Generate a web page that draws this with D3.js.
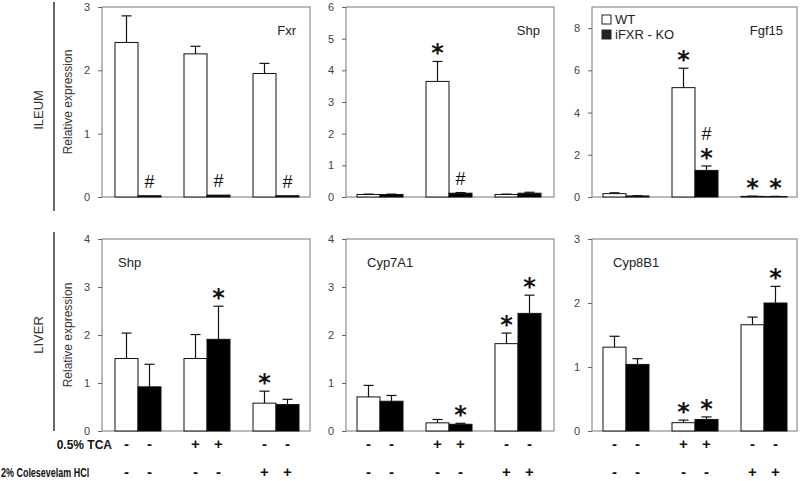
<!DOCTYPE html>
<html><head><meta charset="utf-8">
<script src="https://cdn.jsdelivr.net/npm/d3@7"></script>
<style>
body{margin:0;background:#fff;}
svg{display:block;font-family:"Liberation Sans",Arial,sans-serif;}
</style></head>
<body><svg id="c" width="800" height="481"></svg>
<script>
// ---------- data ----------
const groups = ["ctrl", "tca", "col"];
const series = ["WT", "iFXR - KO"];

const fxrWT = [2.44, 2.26, 1.95], fxrWTErr = [0.42, 0.12, 0.16];
const fxrKO = [0.02, 0.03, 0.02], fxrKOErr = [0, 0, 0];
const fxrWTSig = ["", "", ""], fxrKOSig = ["#", "#", "#"];

const shpIWT = [0.08, 3.65, 0.08], shpIWTErr = [0.01, 0.63, 0.01];
const shpIKO = [0.08, 0.12, 0.12], shpIKOErr = [0.01, 0.02, 0.03];
const shpIWTSig = ["", "*", ""], shpIKOSig = ["", "#", ""];

const fgfWT = [0.16, 5.18, 0.03], fgfWTErr = [0.04, 0.92, 0.01];
const fgfKO = [0.05, 1.26, 0.02], fgfKOErr = [0.01, 0.21, 0.01];
const fgfWTSig = ["", "*", "*"], fgfKOSig = ["", "*#", "*"];

const shpLWT = [1.51, 1.51, 0.58], shpLWTErr = [0.53, 0.50, 0.25];
const shpLKO = [0.92, 1.91, 0.55], shpLKOErr = [0.47, 0.69, 0.11];
const shpLWTSig = ["", "", "*"], shpLKOSig = ["", "*", ""];

const cyp7WT = [0.71, 0.17, 1.82], cyp7WTErr = [0.24, 0.07, 0.22];
const cyp7KO = [0.62, 0.14, 2.45], cyp7KOErr = [0.12, 0.02, 0.38];
const cyp7WTSig = ["", "", "*"], cyp7KOSig = ["", "*", "*"];

const cyp8WT = [1.31, 0.13, 1.66], cyp8WTErr = [0.17, 0.04, 0.12];
const cyp8KO = [1.04, 0.18, 2.00], cyp8KOErr = [0.09, 0.04, 0.26];
const cyp8WTSig = ["", "*", ""], cyp8KOSig = ["", "*", "*"];

const ticksFxr = [0, 1, 2, 3], ticksShpI = [0, 1, 2, 3, 4, 5, 6], ticksFgf = [0, 2, 4, 6, 8];
const ticksShpL = [0, 1, 2, 3, 4], ticksCyp7 = [0, 1, 2, 3, 4], ticksCyp8 = [0, 1, 2, 3];

const tcaMarks = ["-", "-", "+", "+", "-", "-"];
const colMarks = ["-", "-", "-", "-", "+", "+"];
const rowNames = ["ILEUM", "LIVER"];
const yTitle = "Relative expression";
const tcaLabel = "0.5% TCA", colLabel = "2% Colesevelam HCl";

// ---------- layout ----------
const svg = d3.select("#c");
const rows = [{top: 7, bottom: 197}, {top: 239, bottom: 431}];
const cols = [{left: 102, width: 208, off: 13}, {left: 346, width: 208, off: 11}, {left: 592, width: 205, off: 11}];

const panels = [
  {r:0,c:0,name:"Fxr",  max:3, ticks:ticksFxr, wt:fxrWT, wtE:fxrWTErr, ko:fxrKO, koE:fxrKOErr, wtS:fxrWTSig, koS:fxrKOSig, lab:"end"},
  {r:0,c:1,name:"Shp",  max:6, ticks:ticksShpI, wt:shpIWT, wtE:shpIWTErr, ko:shpIKO, koE:shpIKOErr, wtS:shpIWTSig, koS:shpIKOSig, lab:"end"},
  {r:0,c:2,name:"Fgf15",max:9, ticks:ticksFgf, wt:fgfWT, wtE:fgfWTErr, ko:fgfKO, koE:fgfKOErr, wtS:fgfWTSig, koS:fgfKOSig, lab:"end", legend:true},
  {r:1,c:0,name:"Shp",  max:4, ticks:ticksShpL, wt:shpLWT, wtE:shpLWTErr, ko:shpLKO, koE:shpLKOErr, wtS:shpLWTSig, koS:shpLKOSig, lab:"start"},
  {r:1,c:1,name:"Cyp7A1",max:4,ticks:ticksCyp7, wt:cyp7WT, wtE:cyp7WTErr, ko:cyp7KO, koE:cyp7KOErr, wtS:cyp7WTSig, koS:cyp7KOSig, lab:"start"},
  {r:1,c:2,name:"Cyp8B1",max:3,ticks:ticksCyp8, wt:cyp8WT, wtE:cyp8WTErr, ko:cyp8KO, koE:cyp8KOErr, wtS:cyp8WTSig, koS:cyp8KOSig, lab:"start"}
];

const glyph = {"*": {size: 24, fam: "DejaVu Sans", w: "bold", h: 11, c: 0.56}, "#": {size: 18, fam: "Liberation Sans", w: "normal", h: 13, c: 0.36}};

panels.forEach(p => {
  const R = rows[p.r], C = cols[p.c];
  const g = svg.append("g");
  const y = d3.scaleLinear().domain([0, p.max]).range([R.bottom, R.top]);
  const gx = d3.scaleBand().domain(groups).range([C.left + C.off, C.left + C.off + 184]).paddingInner(1/3);
  const sx = d3.scaleBand().domain(series).range([0, gx.bandwidth()]);

  // frame
  g.append("rect").attr("x", C.left).attr("y", R.top).attr("width", C.width).attr("height", R.bottom - R.top)
    .attr("fill", "none").attr("stroke", "#777").attr("stroke-width", 1);

  // axis
  const ax = g.append("g").attr("transform", `translate(${C.left},0)`)
    .call(d3.axisLeft(y).tickValues(p.ticks).tickSize(4).tickPadding(8).tickFormat(d3.format("d")));
  ax.select(".domain").remove();
  ax.selectAll(".tick line").attr("stroke", "#666");
  ax.selectAll(".tick text").attr("fill", "#444").attr("font-size", 11).attr("font-family", "Liberation Sans Narrow, Liberation Sans, Arial");

  const recs = [];
  groups.forEach((gr, i) => {
    [[p.wt, p.wtE, p.wtS, series[0]], [p.ko, p.koE, p.koS, series[1]]].forEach(([v, e, s, ser]) => {
      recs.push({gr, ser, v: v[i], e: e[i], s: s[i]});
    });
  });

  // bars
  g.selectAll("rect.bar").data(recs).join("rect").attr("class", "bar")
    .attr("x", d => gx(d.gr) + sx(d.ser))
    .attr("width", sx.bandwidth())
    .attr("y", d => y(d.v))
    .attr("height", d => y(0) - y(d.v))
    .attr("fill", d => d.ser === series[0] ? "#fff" : "#000")
    .attr("stroke", "#111").attr("stroke-width", 1);

  // error bars
  const eb = recs.filter(d => d.e > 0);
  const cx = d => gx(d.gr) + sx(d.ser) + sx.bandwidth() / 2;
  g.selectAll("line.eb").data(eb).join("line").attr("class", "eb")
    .attr("x1", cx).attr("x2", cx).attr("y1", d => y(d.v)).attr("y2", d => y(d.v + d.e))
    .attr("stroke", "#111").attr("stroke-width", 1.2);
  g.selectAll("line.cap").data(eb).join("line").attr("class", "cap")
    .attr("x1", d => cx(d) - 5).attr("x2", d => cx(d) + 5).attr("y1", d => y(d.v + d.e)).attr("y2", d => y(d.v + d.e))
    .attr("stroke", "#111").attr("stroke-width", 1.2);

  // significance marks
  recs.filter(d => d.s).forEach(d => {
    let cursor = y(d.v + d.e) - 8;
    d.s.split("").forEach(ch => {
      const gm = glyph[ch];
      const center = cursor - gm.h / 2;
      g.append("text").attr("x", cx(d)).attr("y", center + gm.c * gm.size)
        .attr("text-anchor", "middle").attr("font-size", gm.size).attr("font-family", gm.fam)
        .attr("font-weight", gm.w).attr("fill", "#111").text(ch);
      cursor -= gm.h + 7;
    });
  });

  // panel name
  if (p.lab === "end") {
    g.append("text").attr("x", C.left + C.width - 14).attr("y", R.top + 28).attr("text-anchor", "end")
      .attr("font-size", 13).attr("fill", "#222").text(p.name);
  } else {
    g.append("text").attr("x", C.left + (p.c === 0 ? 16 : 21)).attr("y", R.top + 28).attr("text-anchor", "start")
      .attr("font-size", 13).attr("fill", "#222").text(p.name);
  }

  // legend
  if (p.legend) {
    series.forEach((s, i) => {
      g.append("rect").attr("x", C.left + 10).attr("y", R.top + 8 + i * 15).attr("width", 9).attr("height", 9)
        .attr("fill", i === 0 ? "#fff" : "#222").attr("stroke", "#222").attr("stroke-width", 1);
      g.append("text").attr("x", C.left + 23).attr("y", R.top + 17 + i * 15)
        .attr("font-size", 13).attr("fill", "#222").text(s);
    });
  }

  // y title
  if (p.c === 0) {
    const cyT = (R.top + R.bottom) / 2;
    g.append("text").attr("transform", `translate(${C.left - 30},${cyT}) rotate(-90)`)
      .attr("text-anchor", "middle").attr("font-size", 12).attr("fill", "#333").text(yTitle);
  }

  // treatment marks under bottom row
  if (p.r === 1) {
    recs.forEach((d, i) => {
      g.append("text").attr("x", cx(d)).attr("y", 449).attr("text-anchor", "middle")
        .attr("font-size", 15).attr("font-weight", "bold").attr("fill", "#111").text(tcaMarks[i]);
      g.append("text").attr("x", cx(d)).attr("y", 477).attr("text-anchor", "middle")
        .attr("font-size", 15).attr("font-weight", "bold").attr("fill", "#111").text(colMarks[i]);
    });
  }
});

// row labels & separators
rows.forEach((R, i) => {
  const top = i === 0 ? 2 : 232;
  svg.append("line").attr("x1", 54).attr("x2", 54).attr("y1", top).attr("y2", i === 0 ? 211 : 431)
    .attr("stroke", "#333").attr("stroke-width", 1.5);
  const cy = i === 0 ? 110 : 335;
  svg.append("text").attr("transform", `translate(43,${cy}) rotate(-90)`).attr("text-anchor", "middle")
    .attr("font-size", 13).attr("fill", "#333").text(rowNames[i]);
});

svg.append("text").attr("x", 112).attr("y", 449).attr("text-anchor", "end")
  .attr("font-size", 12).attr("font-weight", "bold").attr("fill", "#111").text(tcaLabel);
svg.append("text").attr("transform", "translate(1,477) scale(0.69,1)")
  .attr("font-size", 13).attr("font-weight", "bold").attr("fill", "#111").text(colLabel);
</script></body></html>
